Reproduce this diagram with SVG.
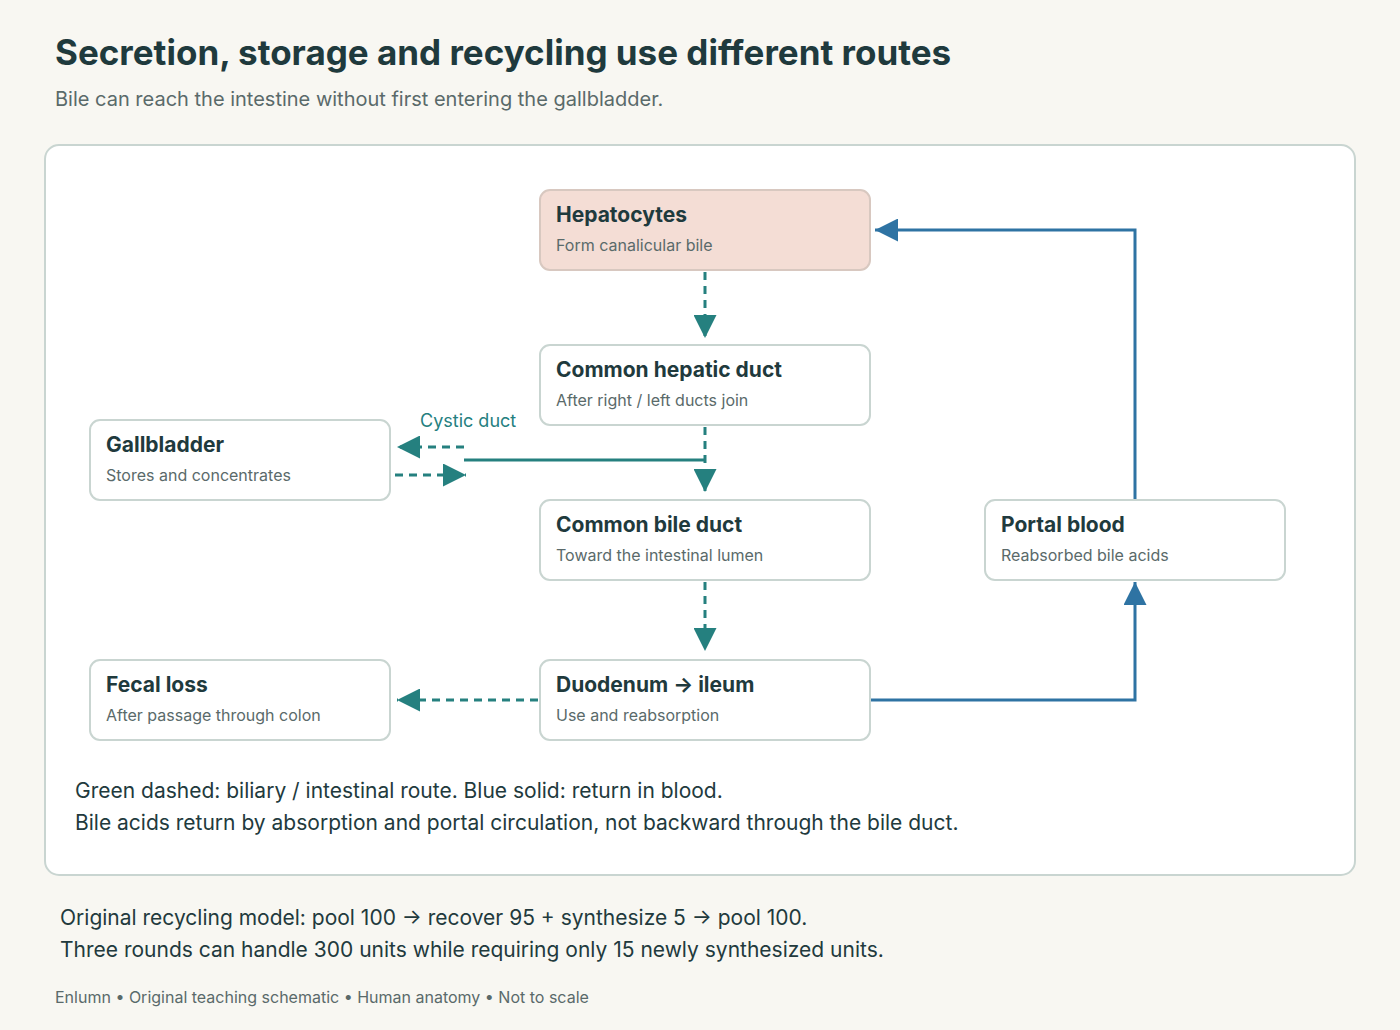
<svg xmlns="http://www.w3.org/2000/svg" width="1400" height="1030" viewBox="0 0 1400 1030">
<style>
text{font-family:Inter,"Liberation Sans",Arial,sans-serif}
.box{fill:#fff;stroke:#c9d5d1;stroke-width:2}
.t{font-size:21px;font-weight:bold;fill:#1f3a3d}
.s{font-size:16px;fill:#5a6a6a}
.g{stroke:#25807f;stroke-width:3;fill:none}
.gd{stroke:#25807f;stroke-width:3;fill:none;stroke-dasharray:8 6}
.b{stroke:#2e73a3;stroke-width:3;fill:none}
.note{font-size:21px;fill:#223a3d}
</style>
<defs>
<marker id="agm" viewBox="0 0 10 10" refX="10" refY="5" markerWidth="23" markerHeight="23" orient="auto" markerUnits="userSpaceOnUse"><path d="M0,0L10,5L0,10z" fill="#25807f"/></marker>
<marker id="abm" viewBox="0 0 10 10" refX="10" refY="5" markerWidth="23" markerHeight="23" orient="auto" markerUnits="userSpaceOnUse"><path d="M0,0L10,5L0,10z" fill="#2e73a3"/></marker>
</defs>
<rect width="1400" height="1030" fill="#f8f7f2"/>
<text x="55" y="65" font-size="35" font-weight="bold" fill="#1f3a3d">Secretion, storage and recycling use different routes</text>
<text x="55" y="106" font-size="20" fill="#5a6a6a">Bile can reach the intestine without first entering the gallbladder.</text>
<rect x="45" y="145" width="1310" height="730" rx="14" fill="#fff" stroke="#c9d5d1" stroke-width="2"/>
<g id="connectors">
<path class="gd" d="M705,272V338" marker-end="url(#agm)"/>
<path class="gd" d="M705,427V492" marker-end="url(#agm)"/>
<path class="g" d="M464,460H705"/>
<path class="gd" d="M464,447H397" marker-end="url(#agm)"/>
<path class="gd" d="M395,475H466" marker-end="url(#agm)"/>
<text x="420" y="427" font-size="18" fill="#25807f">Cystic duct</text>
<path class="gd" d="M705,582V651" marker-end="url(#agm)"/>
<path class="gd" d="M538,700H397" marker-end="url(#agm)"/>
<path class="b" d="M870,700H1135V582" marker-end="url(#abm)"/>
<path class="b" d="M1135,500V230H875" marker-end="url(#abm)"/>
</g>
<g id="hepatocytes"><rect x="540" y="190" width="330" height="80" rx="10" fill="#f4ddd5" stroke="#d8c8c0" stroke-width="2"/><text class="t" x="556" y="222">Hepatocytes</text><text class="s" x="556" y="251">Form canalicular bile</text></g>
<g id="chd"><rect class="box" x="540" y="345" width="330" height="80" rx="10"/><text class="t" x="556" y="377">Common hepatic duct</text><text class="s" x="556" y="406">After right / left ducts join</text></g>
<g id="gallbladder"><rect class="box" x="90" y="420" width="300" height="80" rx="10"/><text class="t" x="106" y="452">Gallbladder</text><text class="s" x="106" y="481">Stores and concentrates</text></g>
<g id="cbd"><rect class="box" x="540" y="500" width="330" height="80" rx="10"/><text class="t" x="556" y="532">Common bile duct</text><text class="s" x="556" y="561">Toward the intestinal lumen</text></g>
<g id="portal"><rect class="box" x="985" y="500" width="300" height="80" rx="10"/><text class="t" x="1001" y="532">Portal blood</text><text class="s" x="1001" y="561">Reabsorbed bile acids</text></g>
<g id="fecal"><rect class="box" x="90" y="660" width="300" height="80" rx="10"/><text class="t" x="106" y="692">Fecal loss</text><text class="s" x="106" y="721">After passage through colon</text></g>
<g id="duodenum"><rect class="box" x="540" y="660" width="330" height="80" rx="10"/><text class="t" x="556" y="692">Duodenum → ileum</text><text class="s" x="556" y="721">Use and reabsorption</text></g>
<text class="note" x="75" y="798">Green dashed: biliary / intestinal route. Blue solid: return in blood.</text>
<text class="note" x="75" y="830">Bile acids return by absorption and portal circulation, not backward through the bile duct.</text>
<text class="note" x="60" y="925">Original recycling model: pool 100 → recover 95 + synthesize 5 → pool 100.</text>
<text class="note" x="60" y="957">Three rounds can handle 300 units while requiring only 15 newly synthesized units.</text>
<text x="55" y="1003" font-size="16" fill="#5a6a6a">Enlumn • Original teaching schematic • Human anatomy • Not to scale</text>
</svg>
